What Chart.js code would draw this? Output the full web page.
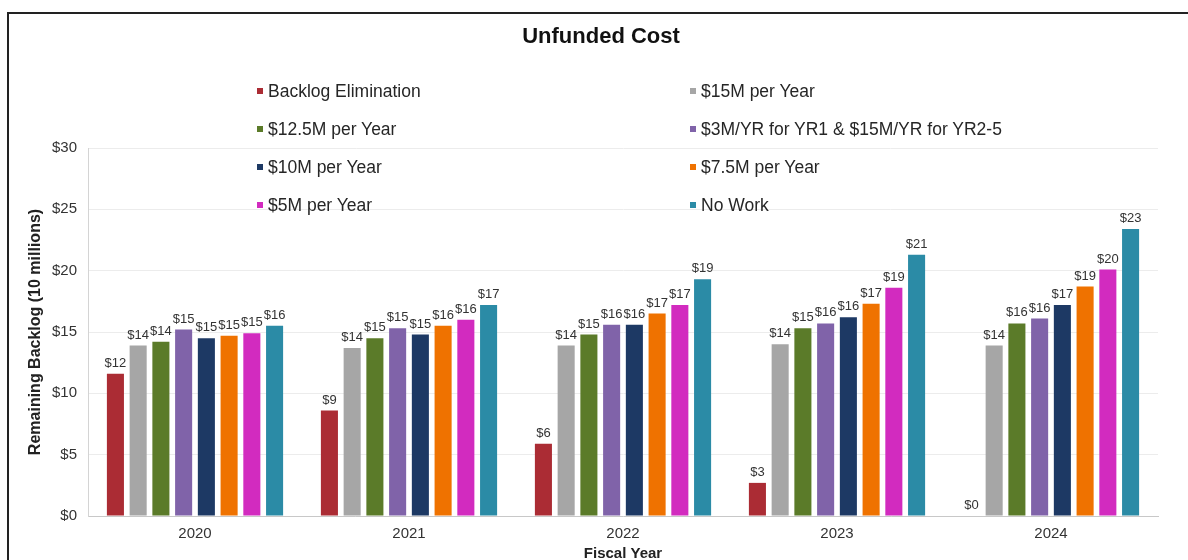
<!DOCTYPE html>
<html>
<head>
<meta charset="utf-8">
<script src="https://cdn.jsdelivr.net/npm/chart.js@4.4.0/dist/chart.umd.min.js"></script>
<style>
    html, body { margin: 0; padding: 0; background: #fff; }
    .wrap { position: relative; width: 1188px; height: 560px; overflow: hidden; font-family: Arial, "Liberation Sans", sans-serif; }
    canvas { position: absolute; left: 0; top: 0; }
    .frame { position: absolute; left: 7px; top: 12px; right: -10px; bottom: -10px; border-top: 2px solid #222; border-left: 2px solid #222; pointer-events: none; }
    .title { position: absolute; left: 0; width: 1202px; top: 23px; text-align: center; font-weight: bold; font-size: 22px; color: #111; }
    .legend-item { position: absolute; font-size: 17.5px; color: #262626; white-space: nowrap; line-height: 20px; }
    .legend-item span { display: inline-block; width: 6px; height: 6px; margin-right: 5px; vertical-align: 3px; }
</style>
</head>
<body>
<div class="wrap">
    <canvas id="chart" width="1188" height="560"></canvas>
    <div class="title">Unfunded Cost</div>
    <div id="legend"></div>
    <div class="frame"></div>
</div>
<script>
    const years = ['2020', '2021', '2022', '2023', '2024'];
    const seriesNames = [
        'Backlog Elimination',
        '$15M per Year',
        '$12.5M per Year',
        '$3M/YR for YR1 & $15M/YR for YR2-5',
        '$10M per Year',
        '$7.5M per Year',
        '$5M per Year',
        'No Work'
    ];
    const backlogElimination = [11.6, 8.6, 5.9, 2.7, 0];
    const fifteenPerYear = [13.9, 13.7, 13.9, 14.0, 13.9];
    const twelveHalfPerYear = [14.2, 14.5, 14.8, 15.3, 15.7];
    const threeThenFifteen = [15.2, 15.3, 15.6, 15.7, 16.1];
    const tenPerYear = [14.5, 14.8, 15.6, 16.2, 17.2];
    const sevenHalfPerYear = [14.7, 15.5, 16.5, 17.3, 18.7];
    const fivePerYear = [14.9, 16.0, 17.2, 18.6, 20.1];
    const noWork = [15.5, 17.2, 19.3, 21.3, 23.4];
    const yTicks = [0, 5, 10, 15, 20, 25, 30];

    const seriesValues = [backlogElimination, fifteenPerYear, twelveHalfPerYear, threeThenFifteen,
        tenPerYear, sevenHalfPerYear, fivePerYear, noWork];
    const colors = ['#ab2c34', '#a6a6a6', '#5b7b29', '#8063a9', '#1d3964', '#ef7200', '#d22bbf', '#2b8ba6'];

    // legend drawn over the plot, two columns, row by row
    const legendBox = document.getElementById('legend');
    seriesNames.forEach((name, i) => {
        const item = document.createElement('div');
        item.className = 'legend-item';
        item.style.left = (i % 2 === 0 ? 257 : 690) + 'px';
        item.style.top = (81 + Math.floor(i / 2) * 38) + 'px';
        item.innerHTML = '<span style="background:' + colors[i] + '"></span>';
        item.appendChild(document.createTextNode(name));
        legendBox.appendChild(item);
    });

    const valueLabels = {
        id: 'valueLabels',
        afterDatasetsDraw(chart) {
            const ctx = chart.ctx;
            ctx.save();
            ctx.font = '13px Arial, "Liberation Sans", sans-serif';
            ctx.fillStyle = '#333333';
            ctx.textAlign = 'center';
            ctx.textBaseline = 'bottom';
            chart.data.datasets.forEach((ds, di) => {
                chart.getDatasetMeta(di).data.forEach((bar, i) => {
                    ctx.fillText('$' + Math.round(ds.data[i]), bar.x, bar.y - 4);
                });
            });
            ctx.restore();
        }
    };

    const ctx = document.getElementById('chart').getContext('2d');
    const chart = new Chart(ctx, {
        type: 'bar',
        data: {
            labels: years,
            datasets: seriesNames.map((name, i) => ({
                label: name,
                data: seriesValues[i],
                backgroundColor: colors[i],
                categoryPercentage: 0.85,
                barPercentage: 0.75
            }))
        },
        options: {
            responsive: false,
            animation: false,
            layout: {
                padding: { top: 148, right: 30, bottom: -3, left: 26 }
            },
            plugins: {
                legend: { display: false },
                tooltip: { enabled: false }
            },
            scales: {
                x: {
                    grid: { display: false, drawTicks: false },
                    border: { color: '#c8c8c8' },
                    ticks: {
                        color: '#333333',
                        padding: 9,
                        font: { family: 'Arial', size: 15 }
                    },
                    title: {
                        display: true,
                        text: 'Fiscal Year',
                        color: '#222',
                        padding: 0,
                        font: { family: 'Arial', size: 15, weight: 'bold' }
                    },
                    afterFit: function(scale) { scale.height = 47; }
                },
                y: {
                    min: 0,
                    max: 30,
                    afterBuildTicks: function(scale) {
                        scale.ticks = yTicks.map(v => ({ value: v }));
                    },
                    grid: { color: '#ececec', drawTicks: false },
                    border: { color: '#d4d4d4' },
                    ticks: {
                        color: '#333333',
                        padding: 11,
                        font: { family: 'Arial', size: 15 },
                        callback: v => '$' + v
                    },
                    title: {
                        display: true,
                        text: 'Remaining Backlog (10 millions)',
                        color: '#222',
                        padding: 0,
                        font: { family: 'Arial', size: 16, weight: 'bold' }
                    },
                    afterFit: function(scale) { scale.width = 62; }
                }
            }
        },
        plugins: [valueLabels]
    });
</script>
</body>
</html>
